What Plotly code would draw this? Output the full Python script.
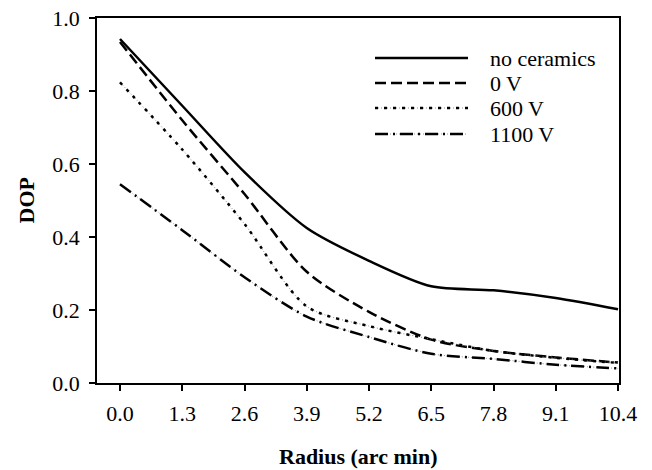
import plotly.graph_objects as go

radius = [0.0, 1.3, 2.6, 3.9, 5.2, 6.5, 7.8, 9.1, 10.4]
tick_labels = ["0.0", "1.3", "2.6", "3.9", "5.2", "6.5", "7.8", "9.1", "10.4"]
y_ticks = [0.0, 0.2, 0.4, 0.6, 0.8, 1.0]
y_tick_labels = ["0.0", "0.2", "0.4", "0.6", "0.8", "1.0"]
series_names = ["no ceramics", "0 V", "600 V", "1100 V"]
dop_no_ceramics = [0.943, 0.760, 0.578, 0.425, 0.335, 0.265, 0.254, 0.233, 0.202]
dop_0v = [0.935, 0.720, 0.518, 0.305, 0.195, 0.119, 0.088, 0.070, 0.056]
dop_600v = [0.824, 0.640, 0.436, 0.210, 0.156, 0.120, 0.088, 0.069, 0.055]
dop_1100v = [0.545, 0.419, 0.290, 0.182, 0.126, 0.080, 0.066, 0.050, 0.040]

series_values = [dop_no_ceramics, dop_0v, dop_600v, dop_1100v]
dashes = ["solid", "11px,5px", "3px,6px", "13px,5px,2px,5px"]
widths = [2.5, 2.5, 2.5, 2.5]
underlay = [False, False, True, True]

FONT = "Times New Roman, Liberation Serif, DejaVu Serif, serif"
FS = 22

# the page body has an 8px default margin, so the figure is drawn 8px smaller
OFF = 8
W, H = 652 - OFF, 470 - OFF
L, T = 97 - OFF, 18 - OFF
pw, ph = 522, 365
R, B = W - L - pw, H - T - ph

def px2paper_x(px):
    return (px - OFF - L) / pw

def px2paper_y(py):
    return 1 - (py - OFF - T) / ph

fig = go.Figure()
for name, vals, dash, w, ul in zip(series_names, series_values, dashes, widths, underlay):
    if ul:
        fig.add_trace(go.Scatter(
            x=radius, y=vals, mode="lines", hoverinfo="skip",
            line=dict(color="#777777", width=0.8, dash="1px,2px", shape="spline", smoothing=0.8),
            showlegend=False,
        ))
    fig.add_trace(go.Scatter(
        x=radius, y=vals, name=name, mode="lines",
        line=dict(color="black", width=w, dash=dash, shape="spline", smoothing=0.8),
        showlegend=False,
    ))

# manual legend (long line samples as in the reference)
leg_x0, leg_x1, leg_tx = 375, 468, 488
leg_rows = [58, 83, 108, 134]
for name, dash, w, ul, ry in zip(series_names, dashes, widths, underlay, leg_rows):
    if ul:
        fig.add_shape(type="line", xref="paper", yref="paper",
                      x0=px2paper_x(leg_x0), x1=px2paper_x(leg_x1),
                      y0=px2paper_y(ry), y1=px2paper_y(ry),
                      line=dict(color="#777777", width=0.8, dash="1px,2px"))
    fig.add_shape(type="line", xref="paper", yref="paper",
                  x0=px2paper_x(leg_x0), x1=px2paper_x(leg_x1),
                  y0=px2paper_y(ry), y1=px2paper_y(ry),
                  line=dict(color="black", width=w, dash=dash))
    fig.add_annotation(xref="paper", yref="paper", x=px2paper_x(leg_tx), y=px2paper_y(ry),
                       text=name, showarrow=False, xanchor="left", yanchor="middle",
                       font=dict(family=FONT, size=FS, color="black"))

# axis titles
fig.add_annotation(xref="paper", yref="paper", x=0.5, y=px2paper_y(456),
                   text="<b>Radius (arc min)</b>", showarrow=False,
                   xanchor="center", yanchor="middle",
                   font=dict(family=FONT, size=FS, color="black"))
fig.add_annotation(xref="paper", yref="paper", x=px2paper_x(26), y=0.5,
                   text="<b>DOP</b>", showarrow=False, textangle=-90,
                   xanchor="center", yanchor="middle",
                   font=dict(family=FONT, size=FS, color="black"))

fig.update_layout(
    width=W, height=H,
    margin=dict(l=L, r=R, t=T, b=B, autoexpand=False),
    paper_bgcolor="white", plot_bgcolor="white",
    font=dict(family=FONT, size=FS, color="black"),
)
fig.update_xaxes(
    range=[-0.48, 10.42], tickvals=radius, ticktext=tick_labels,
    showline=True, linecolor="black", linewidth=1.5, mirror=True,
    ticks="outside", ticklen=6, tickwidth=1.5, tickcolor="black",
    showgrid=False, zeroline=False, automargin=False, ticklabelstandoff=4,
    ticklabeloverflow="allow",
    tickfont=dict(family=FONT, size=FS),
)
fig.update_yaxes(
    range=[0, 1.0005], tickvals=y_ticks, ticktext=y_tick_labels,
    showline=True, linecolor="black", linewidth=1.5, mirror=True,
    ticks="outside", ticklen=6, tickwidth=1.5, tickcolor="black",
    showgrid=False, zeroline=False, automargin=False, ticklabelstandoff=5,
    ticklabeloverflow="allow",
    tickfont=dict(family=FONT, size=FS),
)

fig.write_html("out.html")
